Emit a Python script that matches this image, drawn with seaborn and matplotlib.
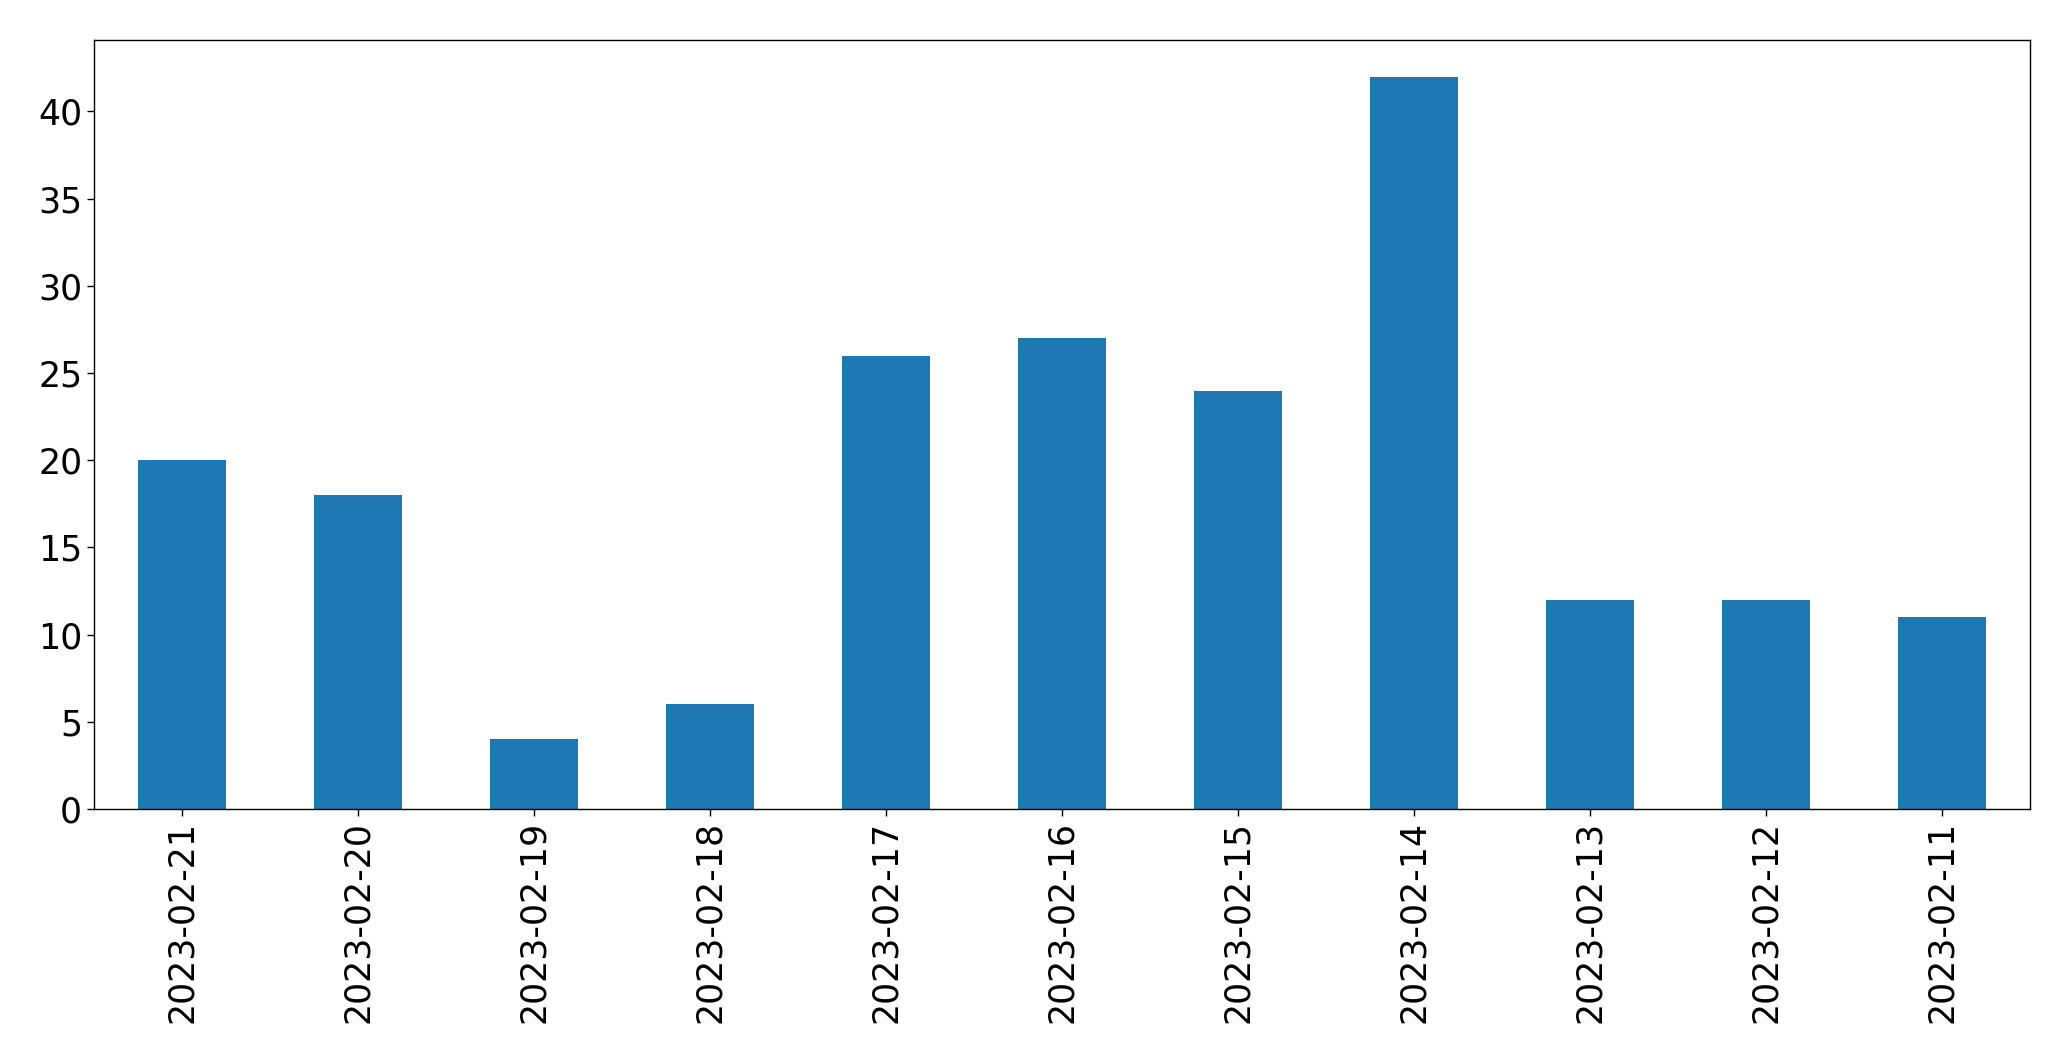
import matplotlib
matplotlib.use("Agg")
import matplotlib.pyplot as plt
import seaborn as sns
import pandas as pd

dates = ["2023-02-21", "2023-02-20", "2023-02-19", "2023-02-18", "2023-02-17",
         "2023-02-16", "2023-02-15", "2023-02-14", "2023-02-13", "2023-02-12", "2023-02-11"]
counts = [20, 18, 4, 6, 26, 27, 24, 42, 12, 12, 11]

sns.set_style("ticks")
plt.rcParams['font.family'] = ['DejaVu Sans']
plt.rcParams['text.color'] = 'black'
plt.rcParams['xtick.color'] = 'black'
plt.rcParams['ytick.color'] = 'black'
plt.rcParams['axes.edgecolor'] = 'black'

df = pd.DataFrame({"date": dates, "count": counts})

fig = plt.figure(figsize=(20.71, 10.61), dpi=100)
ax = fig.add_axes([0.0454, 0.2375, 0.9348, 0.7248])
sns.barplot(data=df, x="date", y="count", color="#1f77b4", saturation=1, width=0.5,
            linewidth=0, ax=ax)
ax.set_xlim(-0.5, len(dates) - 0.5)
ax.set_ylim(0, max(counts) * 1.05)
ax.set_xlabel("")
ax.set_ylabel("")
ax.tick_params(axis="x", labelrotation=90, labelsize=25, length=5, width=1,
               colors="black")
ax.tick_params(axis="y", labelsize=25, length=5, width=1, colors="black")
for s in ax.spines.values():
    s.set_visible(True)
    s.set_linewidth(1)
    s.set_color("black")
fig.savefig("out.png", dpi=100)
